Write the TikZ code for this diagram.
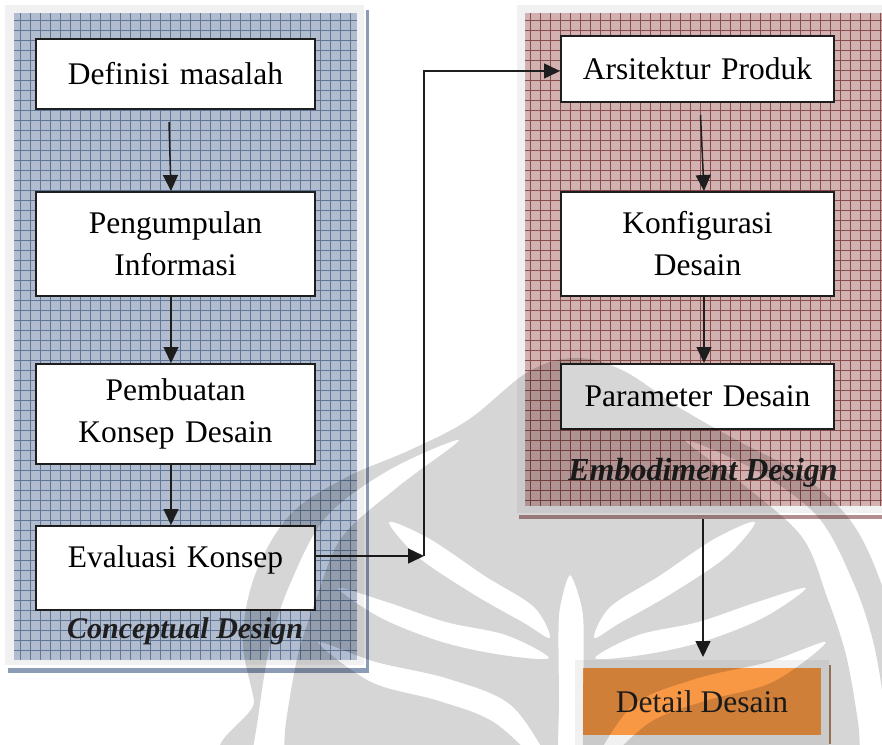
\documentclass[tikz,border=0pt]{standalone}
\usepackage{fontspec}
\setmainfont{Liberation Serif}
\usetikzlibrary{arrows.meta}

\definecolor{bluebase}{HTML}{B1BCCE}
\definecolor{blueline}{HTML}{5F7698}
\definecolor{blueshadow}{HTML}{8C9CB6}
\definecolor{redbase}{HTML}{D2B1B1}
\definecolor{redline}{HTML}{884C4C}
\definecolor{redshadow}{HTML}{B48E8E}
\definecolor{framegrey}{HTML}{F1F1F1}
\definecolor{detailorange}{HTML}{F89845}
\definecolor{tanshadow}{HTML}{B08462}
\definecolor{ink}{HTML}{1E1E1E}

\begin{document}
\begin{tikzpicture}[x=1pt,y=-1pt,
  stepbox/.style={draw=ink, line width=2pt, fill=white, minimum width=279pt,
    text width=270pt, align=center, inner sep=0pt, anchor=north west,
    font=\fontsize{31.5}{42}\selectfont},
  rightbox/.style={stepbox, minimum width=273pt, text width=265pt},
  phaselabel/.style={font=\fontsize{30}{36}\selectfont\bfseries\itshape, text=ink, inner sep=0pt},
  flow/.style={draw=ink, line width=1.5pt, -{Triangle[length=16pt,width=15pt]}},
  gridline/.style={line width=0.6pt}
]
\useasboundingbox (0,0) rectangle (882,744);
\fill[white] (0,0) rectangle (882,744);

% ---- Conceptual design panel ----
\fill[blueshadow] (366,10) rectangle (369,673);
\fill[blueshadow] (8,668) rectangle (369,673);
\fill[framegrey] (5,5) rectangle (364,665);
\fill[bluebase] (14,13) rectangle (357,660);
\foreach \gx in {20,30,...,350} \draw[gridline, blueline] (\gx,13) -- (\gx,660);
\foreach \gy in {20,30,...,650} \draw[gridline, blueline] (14,\gy) -- (357,\gy);

% ---- Embodiment design panel ----
\fill[redshadow] (519,515) rectangle (882,519);
\fill[framegrey] (517,5) rectangle (882,513);
\fill[redbase] (525,13) rectangle (882,506);
\foreach \gx in {530,540,...,880} \draw[gridline, redline] (\gx,13) -- (\gx,506);
\foreach \gy in {20,30,...,500} \draw[gridline, redline] (525,\gy) -- (882,\gy);

% ---- Steps of the conceptual design ----
\node[stepbox, minimum height=70pt] (def) at (35,38) {Definisi masalah};
\node[stepbox, minimum height=104pt] (pen) at (35,191) {Pengumpulan\\Informasi};
\node[stepbox, minimum height=100pt] (pem) at (35,363) {Pembuatan\\Konsep Desain};
\node[stepbox, minimum height=84pt, text height=22pt, text depth=24pt] (eva) at (35,525) {Evaluasi Konsep};
\node[phaselabel] (cdl) at (185,631) {Conceptual Design};

% ---- Steps of the embodiment design ----
\node[rightbox, minimum height=66pt] (ars) at (560,35) {Arsitektur Produk};
\node[rightbox, minimum height=104pt] (kon) at (560,191) {Konfigurasi\\Desain};
\node[rightbox, minimum height=65pt] (par) at (560,363) {Parameter Desain};
\node[phaselabel, font=\fontsize{32}{38}\selectfont\bfseries\itshape] (edl) at (703,473) {Embodiment Design};

% ---- Detail design ----
\fill[tanshadow] (829,665) rectangle (831,744);
\node[fill=framegrey, minimum width=254pt, minimum height=90pt, inner sep=0pt, anchor=north west] (detframe) at (575,660) {};
\node[fill=detailorange, minimum width=238pt, minimum height=67pt, inner sep=0pt,
  font=\fontsize{31.5}{42}\selectfont, text=ink] (det) at (702,701.5) {Detail Desain};

% ---- Connectors ----
\draw[flow] ([xshift=-6.5pt,yshift=-12pt]def.south) -- ([xshift=-4.5pt]pen.north);
\draw[flow] ([xshift=-4.5pt]pen.south) -- ([xshift=-4.5pt]pem.north);
\draw[flow] ([xshift=-4.5pt]pem.south) -- ([xshift=-4.5pt]eva.north);

\coordinate (jlow) at (424,556);
\coordinate (jhigh) at (424,71);
\draw[flow] (eva.east |- jlow) -- (jlow);
\draw[flow] (jlow) -- (jhigh) -- (ars.west |- jhigh);

\draw[flow] ([xshift=3pt,yshift=-12pt]ars.south) -- ([xshift=6.5pt]kon.north);
\draw[flow] ([xshift=6.5pt]kon.south) -- ([xshift=6.5pt]par.north);
\coordinate (embbot) at (703,519);
\draw[flow] (embbot) -- ([yshift=3pt]detframe.north -| embbot);

% ---- Watermark emblem: a light grey veil with white leaf-shaped gaps ----
\begin{scope}
  \clip plot[smooth cycle, tension=0.6] coordinates {
    (575,358) (622,370) (680,408) (740,442) (800,474) (850,520) (880,580)
    (895,640) (890,700) (876,770) (268,770) (254,700) (243,640) (255,575)
    (290,515) (345,478) (410,450) (468,420) (528,372)};
  \fill[black, fill opacity=0.16, even odd rule]
    (200,300) rectangle (900,800)
    % outer wing separators
    plot[smooth cycle, tension=0.55] coordinates {(685,440) (755,470) (818,517) (854,584) (874,645) (886,718) (892,775) (864,775) (858,722) (846,655) (827,597) (802,537) (745,486)}
    plot[smooth cycle, tension=0.55] coordinates {(459,440) (389,470) (326,517) (290,584) (270,645) (258,718) (252,775) (280,775) (286,722) (298,655) (317,597) (342,537) (399,486)}
    % inner sweeping leaves
    plot[smooth cycle, tension=0.55] coordinates {(755,522) (726,557) (671,594) (620,623) (594,638) (610,607) (659,576) (714,539)}
    plot[smooth cycle, tension=0.55] coordinates {(389,522) (418,557) (473,594) (524,623) (550,638) (534,607) (485,576) (430,539)}
    % lower curls
    plot[smooth cycle, tension=0.55] coordinates {(595,658) (642,655) (702,642) (763,618) (806,588) (757,602) (698,622) (638,635)}
    plot[smooth cycle, tension=0.55] coordinates {(549,658) (502,655) (442,642) (381,618) (338,588) (387,602) (446,622) (506,635)}
    % bottom sweeps
    plot[smooth cycle, tension=0.55] coordinates {(590,775) (649,723) (705,701) (773,682) (826,642) (768,662) (695,679) (631,707)}
    plot[smooth cycle, tension=0.55] coordinates {(554,775) (495,723) (439,701) (371,682) (318,642) (376,662) (449,679) (513,707)}
    % central stem
    plot[smooth cycle, tension=0.4] coordinates {(570,575) (583,615) (583,700) (581,775) (559,775) (559,700) (559,615)};
\end{scope}
\end{tikzpicture}
\end{document}
